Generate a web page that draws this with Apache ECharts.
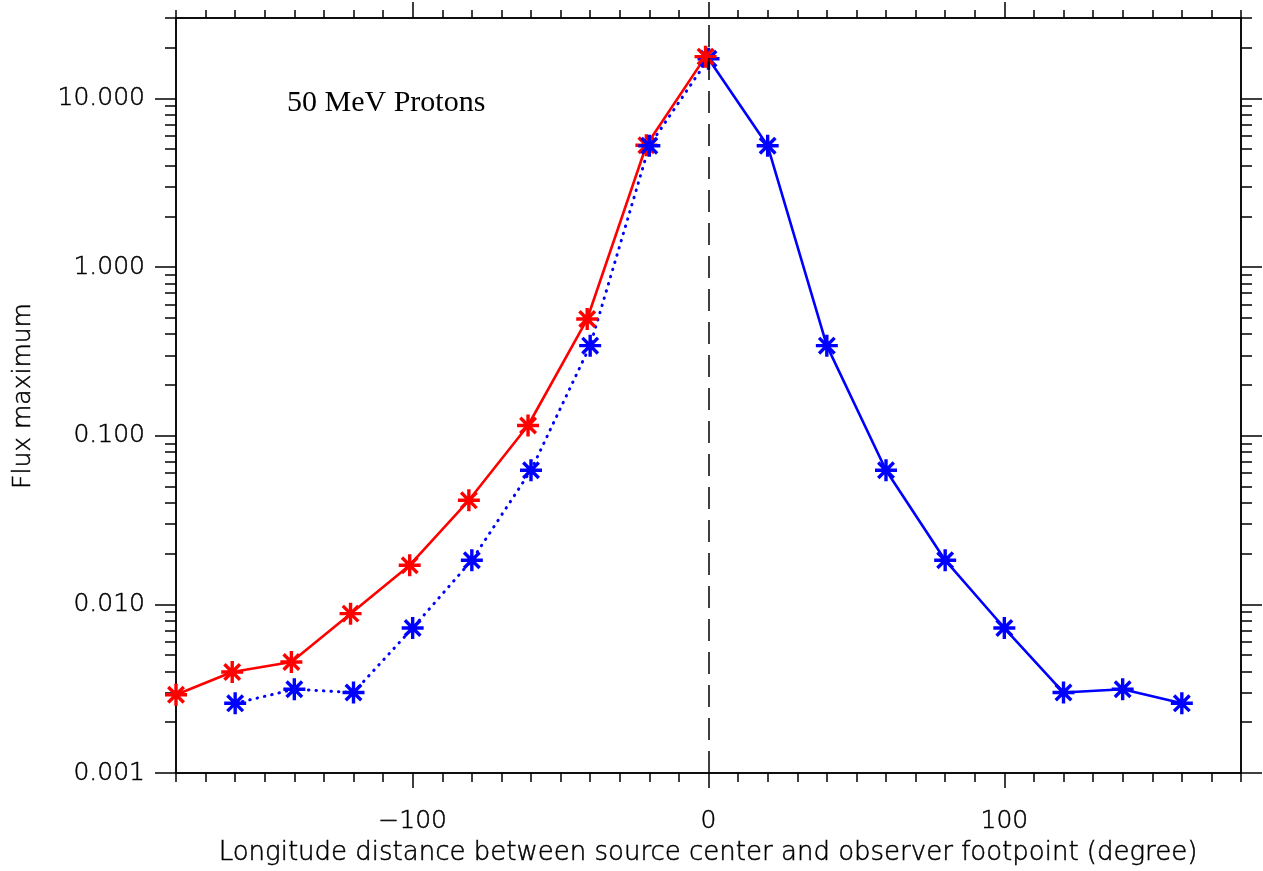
<!DOCTYPE html>
<html>
<head>
<meta charset="utf-8">
<script src="https://cdn.jsdelivr.net/npm/echarts@6/dist/echarts.min.js"></script>
<style>html,body{margin:0;padding:0;background:#fff;}#c{width:1263px;height:871px;}</style>
</head>
<body>
<div id="c"></div>
<script>
// ---- data ----
var redX = [-180, -161, -141, -121, -101, -81, -61, -41, -21, -1];
var redY = [0.00291, 0.00397, 0.00455, 0.00881, 0.01706, 0.0414, 0.115, 0.492, 5.28, 17.7];
var blueNegX = [-160, -140, -120, -100, -80, -60, -40, -20, 0];
var blueNegY = [0.00259, 0.00314, 0.00300, 0.00724, 0.01827, 0.0624, 0.342, 5.24, 17.2];
var bluePosX = [0, 20, 40, 60, 80, 100, 120, 140, 160];
var bluePosY = [17.2, 5.24, 0.342, 0.0624, 0.01827, 0.00724, 0.00300, 0.00314, 0.00259];
var xMajorTicks = [-100, 0, 100];
var yMajorTicks = [0.001, 0.01, 0.1, 1, 10];
var titleText = '50 MeV Protons';
var xTitle = 'Longitude distance between source center and observer footpoint (degree)';
var yTitle = 'Flux maximum';

// ---- derived tick lists ----
var xMinorTicks = [];
for (var v = -180; v <= 180; v += 10) { if (v % 100 !== 0) xMinorTicks.push(v); }
var yMinorTicks = [];
[0.001, 0.01, 0.1, 1, 10].forEach(function (d) {
  for (var k = 2; k <= 9; k++) { var t = +(d * k).toPrecision(3); if (t <= 30) yMinorTicks.push(t); }
});

var FONT = 'DejaVu Sans';
var lineCol = '#000';
function pairs(xs, ys) { return xs.map(function (x, i) { return [x, ys[i]]; }); }
var star = 'path://M0,-10L0,10M-10,0L10,0M-7.07,-7.07L7.07,7.07M-7.07,7.07L7.07,-7.07';
var txtStyle = { color: '#000', fontFamily: FONT, fontWeight: 200, textBorderColor: '#000', textBorderWidth: 0.5 };

function xAx(pos, ticks, len, labels) {
  return {
    type: 'value', position: pos, min: -180, max: 180,
    axisLine: { show: true, onZero: false, lineStyle: { color: lineCol, width: 1.5 } },
    axisTick: { show: true, inside: false, length: len, customValues: ticks, lineStyle: { color: lineCol, width: 1.5 } },
    axisLabel: labels ? Object.assign({
      show: true, customValues: xMajorTicks, margin: 36, fontSize: 25,
      formatter: function (v) { return v < 0 ? '\u2212' + Math.abs(v) : String(v); }
    }, txtStyle) : { show: false },
    splitLine: { show: false }
  };
}
function yAx(pos, ticks, len, labels) {
  return {
    type: 'log', logBase: 10, position: pos, min: 0.001, max: 30,
    axisLine: { show: true, onZero: false, lineStyle: { color: lineCol, width: 1.5 } },
    axisTick: { show: true, inside: false, length: len, customValues: ticks, lineStyle: { color: lineCol, width: 1.5 } },
    axisLabel: labels ? Object.assign({
      show: true, customValues: yMajorTicks, margin: 31, fontSize: 25,
      formatter: function (v) { return Number(v).toFixed(3); }
    }, txtStyle) : { show: false },
    splitLine: { show: false }
  };
}

var chart = echarts.init(document.getElementById('c'), null, { renderer: 'canvas' });
chart.setOption({
  backgroundColor: '#fff',
  animation: false,
  grid: { left: 176, right: 22, top: 18, bottom: 98, containLabel: false },
  xAxis: [
    xAx('bottom', xMinorTicks, 9, false),
    xAx('bottom', xMajorTicks, 15, true),
    xAx('top', xMinorTicks, 8, false),
    xAx('top', xMajorTicks, 16, false)
  ],
  yAxis: [
    yAx('left', yMinorTicks, 11, false),
    yAx('left', yMajorTicks, 21, true),
    yAx('right', yMinorTicks, 11, false),
    yAx('right', yMajorTicks, 21, false)
  ],
  graphic: [
    { type: 'text', left: 287, top: 88, style: { text: titleText, font: '30px "Liberation Serif"', fill: '#000' } },
    { type: 'text', x: 708, y: 853, style: { text: xTitle, fontFamily: FONT, fontSize: 26, fontWeight: 200, fill: '#000', stroke: '#000', lineWidth: 0.5, align: 'center', verticalAlign: 'middle' } },
    { type: 'text', x: 23, y: 396, rotation: Math.PI / 2, style: { text: yTitle, fontFamily: FONT, fontSize: 25, fontWeight: 200, fill: '#000', stroke: '#000', lineWidth: 0.5, align: 'center', verticalAlign: 'middle' } }
  ],
  series: [
    {
      type: 'line', xAxisIndex: 0, yAxisIndex: 0, data: pairs(bluePosX, bluePosY),
      symbol: star, symbolSize: 22, showSymbol: true,
      lineStyle: { color: '#0000ff', width: 2.6 },
      itemStyle: { color: '#0000ff', borderColor: '#0000ff', borderWidth: 3.4 },
      markLine: {
        silent: true, symbol: 'none', label: { show: false },
        lineStyle: { color: '#000', width: 1.5, type: [22, 11] },
        data: [{ xAxis: 0 }]
      }
    },
    {
      type: 'line', xAxisIndex: 0, yAxisIndex: 0, data: pairs(redX, redY),
      symbol: star, symbolSize: 22, showSymbol: true,
      lineStyle: { color: '#ff0000', width: 2.6 },
      itemStyle: { color: '#ff0000', borderColor: '#ff0000', borderWidth: 3.4 }
    },
    {
      type: 'line', xAxisIndex: 0, yAxisIndex: 0,
      data: pairs(blueNegX, blueNegY).map(function (p, i) {
        return i === blueNegX.length - 1 ? { value: p, symbol: 'none' } : p;
      }),
      symbol: star, symbolSize: 22, showSymbol: true,
      lineStyle: { color: '#0000ff', width: 3, type: [0.5, 7], cap: 'round' },
      itemStyle: { color: '#0000ff', borderColor: '#0000ff', borderWidth: 3.4 }
    }
  ]
});
</script>
</body>
</html>
